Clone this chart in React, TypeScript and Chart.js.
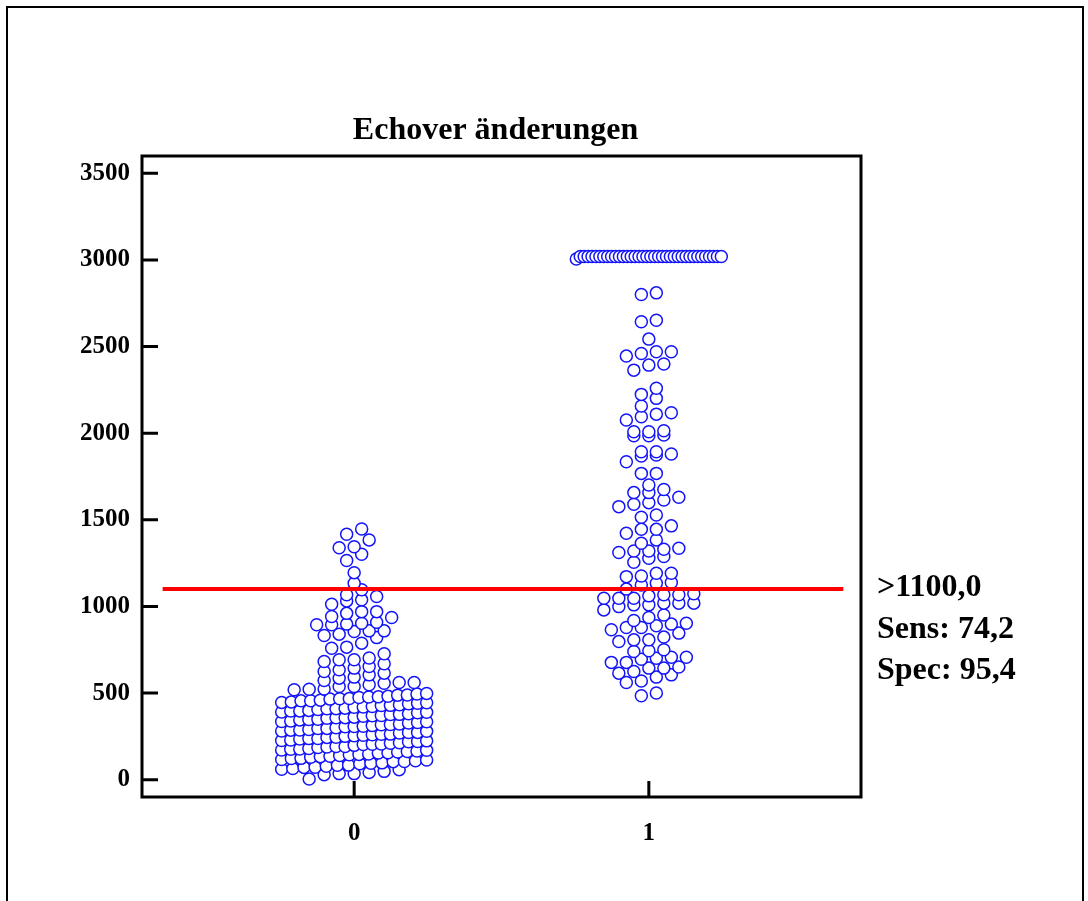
import React, { useEffect, useRef } from "react";
import { Chart, registerables } from "chart.js";

Chart.register(...registerables);

// ---------- data ----------
const categories = ["0", "1"];
const yTickValues = [0, 500, 1000, 1500, 2000, 2500, 3000, 3500];
const cutoffValue = 1100;
const chartTitle = "Echover änderungen";
const statLines = [">1100,0", "Sens: 74,2", "Spec: 95,4"];

// Group "0": each inner list is one row of the dot plot (values shown side by side)
const group0Rows: number[][] = [
  [4, 29, 35, 35, 42, 48, 58],
  [60, 64, 71, 72, 78, 83, 84, 92, 95, 97, 104, 105, 109, 114],
  [116, 122, 123, 129, 133, 135, 139, 144, 146, 148, 154, 155, 160, 163, 165, 170],
  [171, 176, 177, 180, 186, 189, 191, 192, 198, 203, 204, 206, 210, 213, 219, 220, 224],
  [226, 229, 235, 237, 238, 244, 245, 250, 253, 256, 259, 262, 263, 269, 272, 273, 279],
  [281, 286, 287, 290, 295, 296, 300, 305, 307, 308, 312, 317, 318, 321, 327, 330, 334],
  [336, 339, 345, 347, 349, 354, 357, 358, 361, 366, 369, 370, 376, 377, 380, 386, 389],
  [391, 396, 397, 400, 405, 409, 410, 413, 418, 419, 422, 428, 429, 432, 438, 441, 444],
  [446, 449, 455, 456, 459, 465, 467, 468, 474, 477, 478, 481, 488, 489, 494, 498],
  [519, 522, 523, 538, 538, 548, 557, 561, 561],
  [572, 586, 592, 605, 615],
  [624, 634, 644, 653, 669],
  [682, 692, 692, 702, 727],
  [759, 765, 788, 820],
  [832, 840, 855, 859, 859],
  [894, 894, 898, 903, 909, 936],
  [942, 960, 970, 970],
  [1013, 1032, 1038, 1057],
  [1067, 1096],
  [1134],
  [1195],
  [1265, 1301],
  [1339, 1345, 1384],
  [1417, 1447],
];

// Group "1"
const group1Rows: number[][] = [
  [484, 500],
  [561, 570, 592, 605],
  [615, 624, 644, 644, 650],
  [677, 677, 695, 701, 707, 707],
  [740, 744, 750],
  [797, 807, 807, 823, 846],
  [865, 878, 878, 888, 898, 903],
  [919, 936, 951],
  [980, 999, 1009, 1009, 1019, 1019, 1019],
  [1047, 1047, 1047, 1061, 1067, 1067, 1073],
  [1100, 1124, 1134, 1138],
  [1172, 1176, 1192, 1192],
  [1255, 1278, 1288],
  [1311, 1320, 1320, 1330, 1336],
  [1365, 1384],
  [1422, 1445, 1445, 1465],
  [1515, 1528],
  [1576, 1590, 1599, 1614, 1630],
  [1657, 1657, 1675],
  [1701],
  [1768, 1768],
  [1835, 1868, 1874, 1880],
  [1893, 1893],
  [1985, 1985, 1989],
  [2008, 2008, 2014],
  [2076, 2095, 2110, 2118],
  [2157, 2201],
  [2224, 2259],
  [2364, 2393, 2399],
  [2445, 2460, 2470, 2470],
  [2543],
  [2643, 2652],
  [2801, 2810],
  [
    3005, 3020, 3020, 3020, 3020, 3020, 3020, 3020, 3020, 3020, 3020, 3020, 3020,
    3020, 3020, 3020, 3020, 3020, 3020, 3020, 3020, 3020, 3020, 3020, 3020, 3020,
    3020, 3020, 3020, 3020, 3020, 3020, 3020, 3020, 3020, 3020, 3020, 3020,
  ],
];

// ---------- layout / style constants ----------
const X_MIN = -0.72;
const X_MAX = 1.72;
const Y_MIN = -100;
const Y_MAX = 3600;
const SLOT = 0.0509; // horizontal distance between neighbours in a row (x units)
const MAX_HALF = 0.246; // max half width of a row (x units)
const FONT_FAMILY = '"Liberation Serif", "Times New Roman", Times, serif';
const BLUE = "rgb(20,20,250)";

function layoutRows(rows: number[][], center: number) {
  const pts: { x: number; y: number }[] = [];
  rows.forEach((row) => {
    const vals = [...row].sort((a, b) => a - b);
    const n = vals.length;
    const step = n > 1 ? Math.min(SLOT, (2 * MAX_HALF) / (n - 1)) : 0;
    vals.forEach((v, i) => pts.push({ x: center + (i - (n - 1) / 2) * step, y: v }));
  });
  return pts;
}

const decorPlugin = {
  id: "decor",
  afterDraw(chart: any) {
    const { ctx, chartArea, scales } = chart;
    const { left, right, top, bottom } = chartArea;
    ctx.save();
    // outer frame
    ctx.strokeStyle = "#000";
    ctx.lineWidth = 2;
    ctx.beginPath();
    ctx.moveTo(7, 905);
    ctx.lineTo(7, 7);
    ctx.lineTo(1083, 7);
    ctx.lineTo(1083, 905);
    ctx.stroke();

    // plot box
    ctx.lineWidth = 3;
    ctx.strokeRect(left, top, right - left, bottom - top);

    // inward ticks
    ctx.beginPath();
    scales.y.ticks.forEach((t: any) => {
      const y = scales.y.getPixelForValue(t.value);
      ctx.moveTo(left, y);
      ctx.lineTo(left + 16, y);
    });
    scales.x.ticks.forEach((t: any) => {
      const x = scales.x.getPixelForValue(t.value);
      ctx.moveTo(x, bottom);
      ctx.lineTo(x, bottom - 16);
    });
    ctx.stroke();

    // title
    ctx.fillStyle = "#000";
    ctx.textBaseline = "alphabetic";
    ctx.font = `bold 32px ${FONT_FAMILY}`;
    ctx.textAlign = "center";
    ctx.fillText(chartTitle, (left + right) / 2 - 6, 139);

    // statistics text
    ctx.textAlign = "left";
    statLines.forEach((s, i) => {
      ctx.fillText(s, 877, 596 + i * 41.5);
    });
    ctx.restore();
  },
};

export default function App() {
  const canvasRef = useRef<HTMLCanvasElement | null>(null);

  useEffect(() => {
    const canvas = canvasRef.current;
    if (!canvas) return;
    const tickFont = { family: FONT_FAMILY, size: 25, weight: "bold" as const };
    const pointStyle = {
      pointRadius: 6,
      pointBorderWidth: 1.5,
      pointBorderColor: BLUE,
      pointBackgroundColor: "#fff",
    };
    const chart = new Chart(canvas, {
      type: "scatter",
      data: {
        datasets: [
          {
            type: "line",
            label: "cutoff",
            data: [
              { x: -0.65, y: cutoffValue },
              { x: 1.66, y: cutoffValue },
            ],
            borderColor: "rgb(255,0,0)",
            borderWidth: 4,
            pointRadius: 0,
            order: 0,
          } as any,
          { label: categories[0], data: layoutRows(group0Rows, 0), ...pointStyle, order: 1 },
          { label: categories[1], data: layoutRows(group1Rows, 1), ...pointStyle, order: 2 },
        ],
      },
      options: {
        animation: false,
        responsive: false,
        devicePixelRatio: 1,
        layout: { padding: { top: 156, right: 227, left: 0, bottom: 0 } },
        plugins: {
          legend: { display: false },
          tooltip: { enabled: false },
          title: { display: false },
        },
        scales: {
          x: {
            type: "linear",
            min: X_MIN,
            max: X_MAX,
            afterBuildTicks: (s: any) => {
              s.ticks = categories.map((_, i) => ({ value: i }));
            },
            afterFit: (s: any) => {
              s.height = 104;
            },
            grid: { display: false, drawTicks: false },
            border: { display: false },
            ticks: {
              font: tickFont,
              color: "#000",
              padding: 22,
              maxRotation: 0,
              autoSkip: false,
              callback: (v: any) => categories[Number(v)] ?? "",
            },
          },
          y: {
            type: "linear",
            min: Y_MIN,
            max: Y_MAX,
            afterBuildTicks: (s: any) => {
              s.ticks = yTickValues.map((v) => ({ value: v }));
            },
            afterFit: (s: any) => {
              s.width = 142;
            },
            grid: { display: false, drawTicks: false },
            border: { display: false },
            ticks: {
              font: tickFont,
              color: "#000",
              padding: 12,
              callback: (v: any) => String(v),
            },
          },
        },
      },
      plugins: [decorPlugin],
    });
    let alive = true;
    const redraw = () => {
      if (alive) chart.update();
    };
    const fonts: any = (document as any).fonts;
    if (fonts) {
      if (fonts.load) {
        fonts.load(`bold 25px "Liberation Serif"`).then(redraw, () => null);
      }
      if (fonts.ready) fonts.ready.then(redraw, () => null);
    }
    const timers = [setTimeout(redraw, 50), setTimeout(redraw, 300)];
    return () => {
      alive = false;
      timers.forEach((t) => clearTimeout(t));
      chart.destroy();
    };
  }, []);

  return (
    <div style={{ position: "absolute", left: 0, top: 0, width: 1088, height: 901, background: "#fff" }}>
      <canvas ref={canvasRef} width={1088} height={901} style={{ display: "block" }} />
    </div>
  );
}
